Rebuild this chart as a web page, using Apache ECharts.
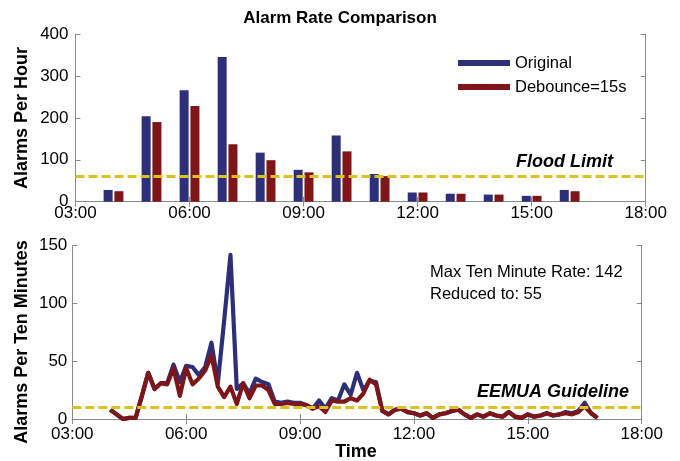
<!DOCTYPE html>
<html>
<head>
<meta charset="utf-8">
<script src="https://cdn.jsdelivr.net/npm/echarts@6/dist/echarts.min.js"></script>
<style>
html,body{margin:0;padding:0;background:#fff;}
#chart{width:680px;height:461px;}
</style>
</head>
<body>
<div id="chart"></div>
<script>
// ---- Data ----
const hourBins = ['04:00','05:00','06:00','07:00','08:00','09:00','10:00','11:00','12:00','13:00','14:00','15:00','16:00'];
const originalPerHour = [28, 204, 266, 345, 117, 76, 158, 66, 22, 19, 17, 14, 28];
const debouncePerHour = [25, 190, 228, 137, 99, 70, 120, 61, 22, 19, 17, 14, 25];

const tenMinuteBins = [
 '04:00','04:10','04:20','04:30','04:40','04:50','05:00','05:10','05:20','05:30','05:40','05:50',
 '06:00','06:10','06:20','06:30','06:40','06:50','07:00','07:10','07:20','07:30','07:40','07:50',
 '08:00','08:10','08:20','08:30','08:40','08:50','09:00','09:10','09:20','09:30','09:40','09:50',
 '10:00','10:10','10:20','10:30','10:40','10:50','11:00','11:10','11:20','11:30','11:40','11:50',
 '12:00','12:10','12:20','12:30','12:40','12:50','13:00','13:10','13:20','13:30','13:40','13:50',
 '14:00','14:10','14:20','14:30','14:40','14:50','15:00','15:10','15:20','15:30','15:40','15:50',
 '16:00','16:10','16:20','16:30','16:40','16:50'];
const originalPerTen = [
 8,4,0,1,1,20,40,26,31,31,47,32,
 46,45,38,45,66,31,85,142,26,31,22,35,
 32,30,15,14,15,14,14,12,9,16,9,18,
 16,30,21,40,25,33,32,7,4,8,9,6,
 5,3,5,1,4,5,7,8,4,1,4,2,
 5,3,2,6,2,1,4,2,3,5,3,4,
 6,5,7,14,5,1];
const debouncePerTen = [
 8,4,0,1,1,20,40,26,31,30,44,20,
 44,30,35,42,55,28,19,28,13,31,18,29,
 29,25,13,13,14,13,13,12,9,11,6,16,
 15,15,18,16,22,34,30,7,4,8,9,6,
 5,3,5,1,4,5,7,8,4,1,4,2,
 5,3,2,6,2,1,4,2,3,5,3,4,
 5,4,6,11,5,1];

const floodLimit = 60;
const eemuaGuideline = 10;
const xTickLabels = ['03:00','06:00','09:00','12:00','15:00','18:00'];

// ---- helpers ----
function toHours(s){ const p = s.split(':'); return (+p[0]) + (+p[1])/60; }
const FONT = 'Liberation Sans, Arial, Helvetica, sans-serif';
const AX = '#8a8a8a';
const BLUE = '#2D3079';
const RED = '#7E1518';
const YEL = '#DCC125';
const xFmt = v => xTickLabels.find(l => toHours(l) === v) || '';

function xAxisPair(gi, showLabels, labelMargin){
  const base = {
    type:'value', gridIndex:gi, min:3, max:18, interval:3,
    axisLine:{show:true, lineStyle:{color:AX, width:1}},
    axisTick:{show:true, inside:true, length:5, lineStyle:{color:AX}},
    splitLine:{show:false}
  };
  return [
    Object.assign({}, base, {position:'bottom',
      axisLabel:{show:showLabels, formatter:xFmt, color:'#000', fontSize:17, fontFamily:FONT, margin:labelMargin}}),
    Object.assign({}, base, {position:'top', axisLabel:{show:false}})
  ];
}
function yAxisPair(gi, max, interval, labelMargin){
  const base = {
    type:'value', gridIndex:gi, min:0, max:max, interval:interval,
    axisLine:{show:true, lineStyle:{color:AX, width:1}},
    axisTick:{show:true, inside:true, length:5, lineStyle:{color:AX}},
    splitLine:{show:false}
  };
  return [
    Object.assign({}, base, {position:'left',
      axisLabel:{show:true, color:'#000', fontSize:17, fontFamily:FONT, margin:labelMargin}}),
    Object.assign({}, base, {position:'right', axisLabel:{show:false}})
  ];
}

const chart = echarts.init(document.getElementById('chart'), null, {renderer:'canvas'});
const option = {
  animation:false,
  backgroundColor:'#fff',
  title:{text:'Alarm Rate Comparison', left:'center', top:5,
    textStyle:{fontSize:17, fontWeight:'bold', color:'#000', fontFamily:FONT}},
  legend:{
    data:['Original','Debounce=15s'], orient:'vertical', left:453, top:49,
    icon:'rect', itemWidth:52, itemHeight:6, itemGap:6,
    textStyle:{fontSize:16.5, color:'#000', fontFamily:FONT, lineHeight:18}
  },
  grid:[
    {left:75.5, right:34.3, top:34, height:167.7},
    {left:72.3, right:38.3, top:245.7, height:173.3}
  ],
  xAxis:[].concat(xAxisPair(0, true, 3), xAxisPair(1, true, 7)),
  yAxis:[].concat(yAxisPair(0, 400, 100, 7), yAxisPair(1, 150, 50, 5)),
  series:[
    {name:'Original', type:'bar', xAxisIndex:0, yAxisIndex:0, barWidth:9, barGap:'20%',
      itemStyle:{color:BLUE},
      data:hourBins.map((h,i)=>[toHours(h), originalPerHour[i]])},
    {name:'Debounce=15s', type:'bar', xAxisIndex:0, yAxisIndex:0, barWidth:9, barGap:'20%',
      itemStyle:{color:RED},
      data:hourBins.map((h,i)=>[toHours(h), debouncePerHour[i]]),
      markLine:{silent:true, symbol:'none', label:{show:false},
        lineStyle:{color:YEL, type:[9,4], width:3},
        data:[{yAxis:floodLimit}]}},
    {name:'Original 10min', type:'line', xAxisIndex:2, yAxisIndex:2, showSymbol:false,
      lineStyle:{color:BLUE, width:4.2, join:'round'}, itemStyle:{color:BLUE}, z:3,
      data:tenMinuteBins.map((t,i)=>[toHours(t), originalPerTen[i]])},
    {name:'Debounce 10min', type:'line', xAxisIndex:2, yAxisIndex:2, showSymbol:false,
      lineStyle:{color:RED, width:4.2, join:'round'}, itemStyle:{color:RED}, z:4,
      data:tenMinuteBins.map((t,i)=>[toHours(t), debouncePerTen[i]]),
      markLine:{silent:true, symbol:'none', label:{show:false},
        lineStyle:{color:YEL, type:[9,4], width:3},
        data:[{yAxis:eemuaGuideline}]}}
  ],
  graphic:[
    {type:'text', x:22, y:118, rotation:Math.PI/2,
      style:{text:'Alarms Per Hour', font:'bold 18px '+FONT, fill:'#000', align:'center', verticalAlign:'middle'}},
    {type:'text', x:22, y:342, rotation:Math.PI/2,
      style:{text:'Alarms Per Ten Minutes', font:'bold 18px '+FONT, fill:'#000', align:'center', verticalAlign:'middle'}},
    {type:'text', x:356, y:452,
      style:{text:'Time', font:'bold 18px '+FONT, fill:'#000', align:'center', verticalAlign:'middle'}},
    {type:'text', x:613, y:162, z:10,
      style:{text:'Flood Limit', font:'italic bold 18px '+FONT, fill:'#000', align:'right', verticalAlign:'middle'}},
    {type:'text', x:629, y:392, z:10,
      style:{text:'EEMUA Guideline', font:'italic bold 18px '+FONT, fill:'#000', align:'right', verticalAlign:'middle'}},
    {type:'text', x:430, y:272,
      style:{text:'Max Ten Minute Rate: 142', font:'16.5px '+FONT, fill:'#000', align:'left', verticalAlign:'middle'}},
    {type:'text', x:430, y:294,
      style:{text:'Reduced to: 55', font:'16.5px '+FONT, fill:'#000', align:'left', verticalAlign:'middle'}}
  ]
};
chart.setOption(option);
</script>
</body>
</html>
